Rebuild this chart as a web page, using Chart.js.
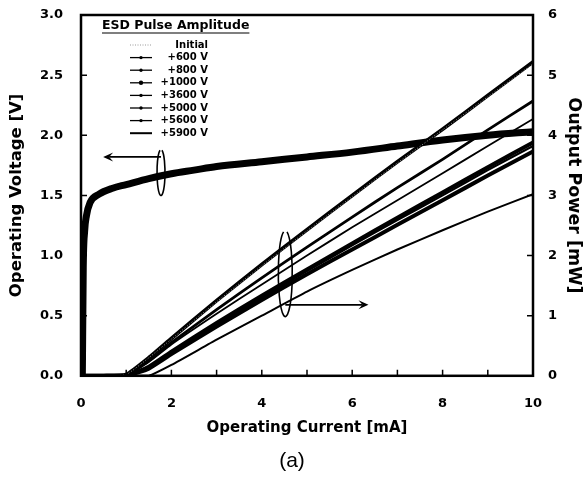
<!DOCTYPE html>
<html>
<head>
<meta charset="utf-8">
<script src="https://cdn.jsdelivr.net/npm/chart.js@4/dist/chart.umd.min.js"></script>
<style>
  html, body { margin: 0; padding: 0; background: #fff; }
  #wrap { width: 584px; height: 477px; }
</style>
</head>
<body>
<div id="wrap"><canvas id="chart" width="584" height="477"></canvas></div>
<script>
// Operating current [mA] sample points for output power curves
const currentPts = [0, 0.5, 1, 1.5, 2, 3, 4, 5, 6, 7, 8, 9, 10];

// Output power [mW] per ESD pulse amplitude
const powerInitial = [0, 0, 0.02, 0.30, 0.61, 1.23, 1.83, 2.41, 2.98, 3.54, 4.09, 4.64, 5.19];
const power600  = [0, 0, 0.02, 0.30, 0.62, 1.25, 1.85, 2.43, 3.00, 3.56, 4.10, 4.66, 5.22];
const power800  = [0, 0, 0.01, 0.25, 0.55, 1.10, 1.63, 2.14, 2.64, 3.13, 3.60, 4.09, 4.57];
const power1000 = [0, 0, 0.01, 0.23, 0.52, 1.03, 1.52, 2.00, 2.47, 2.92, 3.37, 3.82, 4.27];
const power3600 = [0, 0, 0, 0.15, 0.40, 0.88, 1.33, 1.77, 2.20, 2.63, 3.05, 3.47, 3.88];
const power5000 = [0, 0, 0, 0.14, 0.39, 0.86, 1.30, 1.74, 2.17, 2.59, 3.00, 3.42, 3.82];
const power5600 = [0, 0, 0, 0.12, 0.36, 0.82, 1.26, 1.69, 2.10, 2.51, 2.92, 3.33, 3.73];
const power5900 = [0, 0, 0, 0, 0.18, 0.60, 1.00, 1.40, 1.76, 2.10, 2.42, 2.73, 3.02];

// Operating voltage [V] curve
const voltageCurrent = [0.03, 0.05, 0.08, 0.12, 0.2, 0.4, 0.7, 1, 1.5, 2, 2.5, 3, 4, 5, 6, 7, 8, 9, 10];
const voltageValues  = [0, 0.9, 1.2, 1.33, 1.44, 1.51, 1.56, 1.59, 1.64, 1.68, 1.71, 1.74, 1.78, 1.82, 1.86, 1.91, 1.96, 2.0, 2.03];

// Legend labels
const legendLabels = ['Initial', '+600 V', '+800 V', '+1000 V', '+3600 V', '+5000 V', '+5600 V', '+5900 V'];

// Axis ticks
const xTicks = [0, 2, 4, 6, 8, 10];
const vTicks = [0, 0.5, 1, 1.5, 2, 2.5, 3];
const pTicks = [0, 1, 2, 3, 4, 5, 6];

const FONT = "'DejaVu Sans', sans-serif";

function toPoints(xs, ys) {
    return xs.map((x, i) => ({ x: x, y: ys[i] }));
}

function powerSet(label, values, width, dash, color) {
    return {
        label: label,
        data: toPoints(currentPts, values),
        yAxisID: 'yP',
        borderColor: color || '#000',
        borderWidth: width,
        borderDash: dash || [],
        pointRadius: 0,
        tension: 0.15,
        fill: false
    };
}

// Frame, inward ticks, legend box and the ellipse/arrow annotations
const decorPlugin = {
    id: 'decor',
    afterDatasetsDraw(chart) {
        const ctx = chart.ctx;
        const a = chart.chartArea;
        const x = chart.scales.x, yV = chart.scales.yV, yP = chart.scales.yP;
        ctx.save();

        // frame
        ctx.strokeStyle = '#000';
        ctx.lineWidth = 2.5;
        ctx.strokeRect(a.left, a.top, a.right - a.left, a.bottom - a.top);

        // inward ticks
        ctx.lineWidth = 1.5;
        ctx.beginPath();
        for (let v = 1; v < 10; v++) {
            const px = x.getPixelForValue(v);
            ctx.moveTo(px, a.bottom); ctx.lineTo(px, a.bottom - 6);
        }
        vTicks.slice(1, -1).forEach(v => {
            const py = yV.getPixelForValue(v);
            ctx.moveTo(a.left, py); ctx.lineTo(a.left + 6, py);
        });
        pTicks.slice(1, -1).forEach(v => {
            const py = yP.getPixelForValue(v);
            ctx.moveTo(a.right, py); ctx.lineTo(a.right - 6, py);
        });
        ctx.stroke();

        // ellipse + arrow for voltage curve (points left)
        drawRing(ctx, x.getPixelForValue(1.77), yV.getPixelForValue(1.69), 4, 23);
        drawArrow(ctx, x.getPixelForValue(1.77), yV.getPixelForValue(1.82), x.getPixelForValue(0.49));
        // ellipse + arrow for power curves (points right)
        drawRing(ctx, x.getPixelForValue(4.52), yP.getPixelForValue(1.70), 7, 43);
        drawArrow(ctx, x.getPixelForValue(4.52), yP.getPixelForValue(1.18), x.getPixelForValue(6.36));

        // legend
        const lx = a.left, ty = a.top;
        ctx.fillStyle = '#000';
        ctx.font = "bold 12.5px " + FONT;
        ctx.textBaseline = 'middle';
        ctx.textAlign = 'left';
        const title = 'ESD Pulse Amplitude';
        ctx.fillText(title, lx + 21, ty + 11);
        const tw = ctx.measureText(title).width;
        ctx.lineWidth = 1.2;
        ctx.beginPath();
        ctx.moveTo(lx + 21, ty + 18); ctx.lineTo(lx + 21 + tw, ty + 18);
        ctx.stroke();

        ctx.font = "bold 10px " + FONT;
        ctx.textAlign = 'right';
        legendLabels.forEach((lab, i) => {
            const ry = ty + 30 + i * 12.6;
            ctx.fillText(lab, lx + 127, ry);
            ctx.save();
            if (i === 0) {
                ctx.strokeStyle = '#999';
                ctx.lineWidth = 1;
                ctx.setLineDash([1, 1.5]);
            } else {
                ctx.strokeStyle = '#000';
                ctx.lineWidth = i === 7 ? 2 : 1.3;
            }
            ctx.beginPath();
            ctx.moveTo(lx + 49, ry); ctx.lineTo(lx + 71, ry);
            ctx.stroke();
            if (i > 0 && i < 7) {
                ctx.fillStyle = '#000';
                ctx.beginPath();
                ctx.arc(lx + 60, ry, i === 3 ? 2.2 : 1.7, 0, Math.PI * 2);
                ctx.fill();
            }
            ctx.restore();
        });

        ctx.restore();
    }
};

function drawRing(ctx, cx, cy, rx, ry) {
    ctx.save();
    ctx.strokeStyle = '#000';
    ctx.lineWidth = 1.6;
    ctx.beginPath();
    ctx.ellipse(cx, cy, rx, ry, 0, -Math.PI / 2 + 0.25, Math.PI * 1.5 - 0.25);
    ctx.stroke();
    ctx.restore();
}

function drawArrow(ctx, x1, y, x2) {
    ctx.save();
    ctx.strokeStyle = '#000';
    ctx.fillStyle = '#000';
    ctx.lineWidth = 1.8;
    const dir = x2 > x1 ? 1 : -1;
    ctx.beginPath();
    ctx.moveTo(x1, y); ctx.lineTo(x2 - dir * 6, y);
    ctx.stroke();
    ctx.beginPath();
    ctx.moveTo(x2, y);
    ctx.lineTo(x2 - dir * 10, y - 4.5);
    ctx.lineTo(x2 - dir * 6, y);
    ctx.lineTo(x2 - dir * 10, y + 4.5);
    ctx.closePath();
    ctx.fill();
    ctx.restore();
}

const tickFont = { family: FONT, size: 13, weight: 'bold' };

new Chart(document.getElementById('chart'), {
    type: 'line',
    data: {
        datasets: [
            powerSet(legendLabels[0], powerInitial, 1, [1, 2], '#999'),
            powerSet(legendLabels[1], power600, 3.8),
            powerSet(legendLabels[2], power800, 2.8),
            powerSet(legendLabels[3], power1000, 1.8),
            powerSet(legendLabels[4], power3600, 4),
            powerSet(legendLabels[5], power5000, 2.2),
            powerSet(legendLabels[6], power5600, 4),
            powerSet(legendLabels[7], power5900, 2),
            {
                label: 'Operating Voltage',
                data: toPoints(voltageCurrent, voltageValues),
                yAxisID: 'yV',
                borderColor: '#000',
                borderWidth: 7,
                pointRadius: 0,
                cubicInterpolationMode: 'monotone',
                fill: false
            }
        ]
    },
    options: {
        responsive: false,
        animation: false,
        layout: { padding: { top: 15, left: 0, right: 0, bottom: 0 } },
        plugins: {
            legend: { display: false },
            tooltip: { enabled: false },
            title: {
                display: true,
                position: 'bottom',
                text: '(a)',
                color: '#000',
                font: { family: "'Liberation Sans', sans-serif", size: 21, weight: 'normal' },
                padding: { top: 9, bottom: 3 }
            }
        },
        scales: {
            x: {
                type: 'linear',
                min: 0, max: 10,
                grid: { display: false, drawTicks: true, tickLength: 15 },
                border: { display: false },
                afterBuildTicks: s => { s.ticks = xTicks.map(v => ({ value: v })); },
                afterFit: s => { s.height = 64; },
                ticks: { color: '#000', font: tickFont, padding: 5, maxRotation: 0 },
                title: { display: true, text: 'Operating Current [mA]', color: '#000', font: { family: FONT, size: 15, weight: 'bold' }, padding: { top: 0, bottom: 3 } }
            },
            yV: {
                type: 'linear',
                position: 'left',
                min: 0, max: 3,
                grid: { display: false, drawTicks: true, tickLength: 13 },
                border: { display: false },
                afterBuildTicks: s => { s.ticks = vTicks.map(v => ({ value: v })); },
                afterFit: s => { s.width = 81; },
                ticks: { color: '#000', font: tickFont, padding: 5, callback: v => v.toFixed(1) },
                title: { display: true, text: 'Operating Voltage [V]', color: '#000', font: { family: FONT, size: 16.5, weight: 'bold' }, padding: { top: 7, bottom: 0 } }
            },
            yP: {
                type: 'linear',
                position: 'right',
                min: 0, max: 6,
                grid: { display: false, drawTicks: true, tickLength: 10 },
                border: { display: false },
                afterBuildTicks: s => { s.ticks = pTicks.map(v => ({ value: v })); },
                afterFit: s => { s.width = 51; },
                ticks: { color: '#000', font: tickFont, padding: 5 },
                title: { display: true, text: 'Output Power [mW]', color: '#000', font: { family: FONT, size: 17.5, weight: 'bold' }, padding: { top: 0, bottom: 0 } }
            }
        }
    },
    plugins: [decorPlugin]
});
</script>
</body>
</html>
